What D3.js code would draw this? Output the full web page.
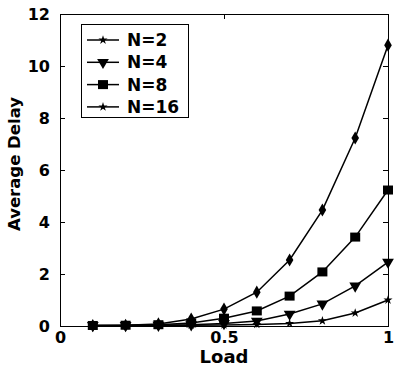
<!DOCTYPE html>
<html>
<head>
<meta charset="utf-8">
<script src="https://cdn.jsdelivr.net/npm/d3@7"></script>
<style>
  body { margin: 0; background: #fff; }
  text { font-family: "DejaVu Sans", sans-serif; font-weight: bold; fill: #000; }
</style>
</head>
<body>
<svg id="chart" width="397" height="369"></svg>
<script>
// data
const load = [0.1, 0.2, 0.3, 0.4, 0.5, 0.6, 0.7, 0.8, 0.9, 1.0];
const delayN2 = [0.02, 0.03, 0.08, 0.27, 0.65, 1.3, 2.54, 4.46, 7.23, 10.8];
const delayN4 = [0.02, 0.02, 0.03, 0.05, 0.1, 0.19, 0.46, 0.85, 1.54, 2.46];
const delayN8 = [0.02, 0.03, 0.05, 0.12, 0.3, 0.58, 1.15, 2.08, 3.42, 5.23];
const delayN16 = [0.01, 0.01, 0.02, 0.03, 0.04, 0.06, 0.1, 0.2, 0.5, 1.0];
const seriesNames = ["N=2", "N=4", "N=8", "N=16"];
const xTicks = [0, 0.5, 1];
const yTicks = [0, 2, 4, 6, 8, 10, 12];

const series = [
  { name: seriesNames[0], values: delayN2, marker: "diamond" },
  { name: seriesNames[1], values: delayN4, marker: "triangle" },
  { name: seriesNames[2], values: delayN8, marker: "square" },
  { name: seriesNames[3], values: delayN16, marker: "star" }
];

const svg = d3.select("#chart");
const plotL = 60, plotR = 388, plotT = 14, plotB = 326;

const x = d3.scaleLinear().domain([0, 1]).range([plotL, plotR]);
const y = d3.scaleLinear().domain([0, 12]).range([plotB, plotT]);

// frame
svg.append("rect")
  .attr("x", plotL + 0.5).attr("y", plotT + 0.5)
  .attr("width", plotR - plotL).attr("height", plotB - plotT)
  .attr("fill", "none").attr("stroke", "#000").attr("stroke-width", 1);

// axes with inward ticks
const xAxis = svg.append("g").attr("transform", `translate(0,${plotB})`)
  .call(d3.axisBottom(x).tickValues(xTicks).tickSize(-5).tickPadding(6).tickFormat(d3.format("")));
const yAxis = svg.append("g").attr("transform", `translate(${plotL},0)`)
  .call(d3.axisLeft(y).tickValues(yTicks).tickSize(-5).tickPadding(10));
svg.append("g").attr("transform", `translate(${plotR},0)`)
  .call(d3.axisRight(y).tickValues(yTicks).tickSize(-5).tickFormat(""));
svg.append("g").attr("transform", `translate(0,${plotT})`)
  .call(d3.axisTop(x).tickValues(xTicks).tickSize(-5).tickFormat(""));

svg.selectAll(".domain").remove();
svg.selectAll(".tick line").attr("stroke", "#000");
xAxis.selectAll("text").style("font-size", "16px");
yAxis.selectAll("text").style("font-size", "16px");

// axis titles
svg.append("text")
  .attr("x", (plotL + plotR) / 2).attr("y", 363)
  .attr("text-anchor", "middle").style("font-size", "18px")
  .text("Load");
svg.append("text")
  .attr("transform", `translate(20,164) rotate(-90)`)
  .attr("text-anchor", "middle").style("font-size", "16.5px")
  .text("Average Delay");

// markers
function drawMarker(g, type, cx, cy) {
  if (type === "diamond") {
    g.append("path").attr("d", d3.symbol(d3.symbolDiamond, 50)()).attr("transform", `translate(${cx},${cy})`);
  } else if (type === "triangle") {
    g.append("path").attr("d", d3.symbol(d3.symbolTriangle, 60)()).attr("transform", `translate(${cx},${cy}) rotate(180)`);
  } else if (type === "square") {
    g.append("rect").attr("x", cx - 5).attr("y", cy - 4.5).attr("width", 10).attr("height", 9);
  } else {
    g.append("path").attr("d", d3.symbol(d3.symbolStar, 26)()).attr("transform", `translate(${cx},${cy})`);
  }
}

const line = d3.line().x((d, i) => x(load[i])).y(d => y(d));

series.forEach(s => {
  const g = svg.append("g").attr("fill", "#000");
  g.append("path").datum(s.values)
    .attr("d", line).attr("fill", "none").attr("stroke", "#000").attr("stroke-width", 1.5);
  s.values.forEach((v, i) => drawMarker(g, s.marker, x(load[i]), y(v)));
});

// legend
const legend = svg.append("g");
legend.append("rect")
  .attr("x", 81.5).attr("y", 24.5).attr("width", 107).attr("height", 93)
  .attr("fill", "#fff").attr("stroke", "#000").attr("stroke-width", 1);
series.forEach((s, i) => {
  const ly = 40 + i * 22.3;
  const g = legend.append("g").attr("fill", "#000");
  g.append("line").attr("x1", 87).attr("x2", 119).attr("y1", ly).attr("y2", ly)
    .attr("stroke", "#000").attr("stroke-width", 1.5);
  drawMarker(g, s.marker === "diamond" ? "star" : s.marker, 103, ly);
  legend.append("text").attr("x", 127).attr("y", ly).attr("dy", "0.36em")
    .style("font-size", "17px").text(s.name);
});
</script>
</body>
</html>
